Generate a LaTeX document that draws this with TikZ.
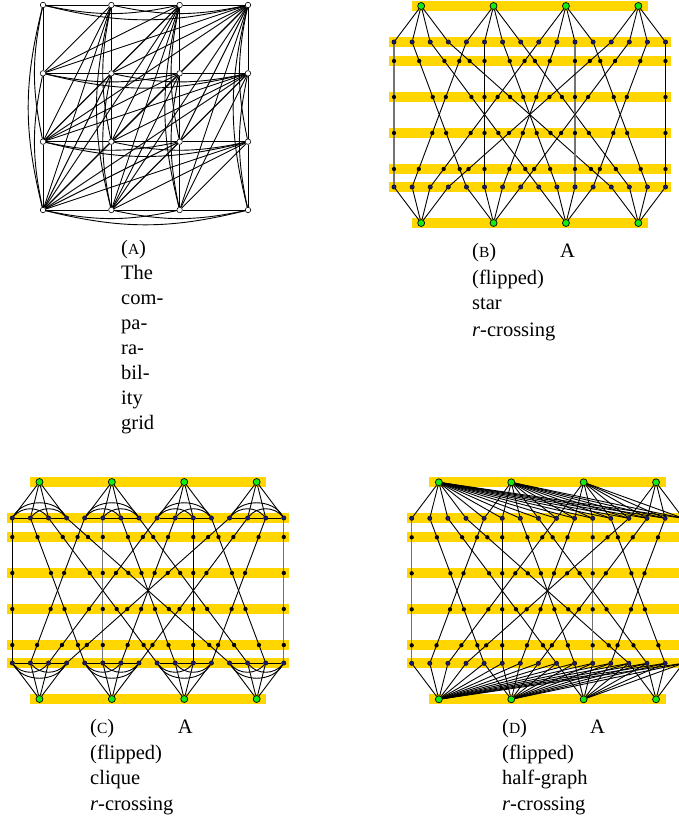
\documentclass[tikz,border=0pt]{standalone}
\usepackage{fontspec}
\setmainfont{Liberation Serif}
\pgfdeclarelayer{bg}
\pgfdeclarelayer{edges}
\pgfsetlayers{bg,edges,main}
\definecolor{bandcol}{RGB}{255,214,0}
\definecolor{gncol}{RGB}{20,235,20}
\definecolor{bncol}{RGB}{25,25,120}
\tikzset{
  gn/.style={circle,draw=black,fill=gncol,inner sep=0pt,minimum size=7pt,line width=0.7pt},
  bn/.style={circle,draw=black,fill=bncol,inner sep=0pt,minimum size=4.4pt,line width=0.4pt},
  dn/.style={circle,fill=black,inner sep=0pt,minimum size=4.3pt},
  wn/.style={circle,draw=black,fill=white,inner sep=0pt,minimum size=5.5pt,line width=0.6pt},
  ed/.style={line width=0.9pt,black},
  gved/.style={line width=1.2pt,black!55},
  bandfill/.style={fill=bandcol},
  captext/.style={anchor=base west,inner sep=0pt,font=\fontsize{20.5}{25}\selectfont},
  capright/.style={anchor=base east,inner sep=0pt,font=\fontsize{20.5}{25}\selectfont},
}
\newcommand{\smc}[1]{{\fontsize{15.5}{25}\selectfont #1}}
\newcommand{\rcross}[6]{%
  \begin{pgfonlayer}{bg}
    \fill[bandfill] ({#2+17.6},{#3-5}) rectangle ({#2+254},{#3+5});
    \fill[bandfill] ({#2+17.6},{#3+212}) rectangle ({#2+254},{#3+222});
    \foreach \r in {36,55,91,127,163,181}
      \fill[bandfill] ({#2-5},{#3+\r-5}) rectangle ({#2+276.5},{#3+\r+5});
  \end{pgfonlayer}
  \foreach \g in {0,...,3} {
    \node[gn] (#1t\g) at ({#2+27.15+72.4*\g},{#3}) {};
    \node[gn] (#1b\g) at ({#2+27.15+72.4*\g},{#3+217}) {};
  }
  \foreach \i in {0,...,15} {
    \node[bn] (#1u\i) at ({#2+18.1*\i},{#3+36}) {};
    \node[bn] (#1d\i) at ({#2+18.1*\i},{#3+181}) {};
  }
  \foreach \i in {0,...,15} {
    \pgfmathtruncatemacro{\pp}{4*mod(\i,4)+int(\i/4)}
    \foreach \r/\k in {19/1,55/2,91/3,127/4}
      \node[dn] (#1m\i-\k) at ({#2+18.1*\i+(\pp-\i)*(18.1*\r/145)},{#3+36+\r}) {};
    \pgfmathtruncatemacro{\isg}{(\i==#5)||(\i==#6)}
    \begin{pgfonlayer}{edges}
      \ifnum\isg=1 \draw[gved] (#1u\i) -- (#1d\pp);
      \else \draw[ed] (#1u\i) -- (#1d\pp); \fi
    \end{pgfonlayer}
  }
  \begin{pgfonlayer}{edges}
  \foreach \g in {0,...,3} {
    \pgfmathtruncatemacro{\lo}{4*\g}
    \pgfmathtruncatemacro{\hi}{#4==2 ? 15 : 4*\g+3}
    \foreach \ii in {\lo,...,\hi} {
      \draw[ed] (#1t\g) -- (#1u\ii);
      \draw[ed] (#1b\g) -- (#1d\ii);
    }
  }
  \ifnum#4=1
  \foreach \g in {0,...,3} {
    \pgfmathtruncatemacro{\qa}{4*\g}
    \pgfmathtruncatemacro{\qb}{4*\g+1}
    \pgfmathtruncatemacro{\qc}{4*\g+2}
    \pgfmathtruncatemacro{\qd}{4*\g+3}
    \draw[ed] (#1u\qa) -- (#1u\qb);
    \draw[ed] (#1u\qb) -- (#1u\qc);
    \draw[ed] (#1u\qc) -- (#1u\qd);
    \draw[ed] (#1u\qa) to[bend left=50] (#1u\qc);
    \draw[ed] (#1u\qb) to[bend left=50] (#1u\qd);
    \draw[ed] (#1u\qa) to[bend left=60] (#1u\qd);
    \draw[ed] (#1d\qa) -- (#1d\qb);
    \draw[ed] (#1d\qb) -- (#1d\qc);
    \draw[ed] (#1d\qc) -- (#1d\qd);
    \draw[ed] (#1d\qa) to[bend right=50] (#1d\qc);
    \draw[ed] (#1d\qb) to[bend right=50] (#1d\qd);
    \draw[ed] (#1d\qa) to[bend right=60] (#1d\qd);
  }
  \fi
  \end{pgfonlayer}
}
\begin{document}
\begin{tikzpicture}[x=1pt,y=-1pt]
\useasboundingbox (0,0) rectangle (679,821);
\clip (0,0) rectangle (679,821);
% Panel A: comparability grid
\foreach \ca in {0,...,3} \foreach \ra in {0,...,3}
  \node[wn] (A\ca\ra) at ({43+68.33*\ca},{210-68.33*\ra}) {};
\begin{pgfonlayer}{edges}
\foreach \ra in {0,...,3} {
  \foreach \p/\q in {0/1,1/2,2/3} {
    \draw[ed] (A\p\ra) -- (A\q\ra);
    \draw[ed] (A\ra\p) -- (A\ra\q);
  }
  \foreach \p/\q/\bb in {0/2/12,1/3/12,0/3/14} {
    \draw[ed] (A\p\ra) to[bend right=\bb] (A\q\ra);
    \draw[ed] (A\ra\q) to[bend right=\bb] (A\ra\p);
  }
}
\foreach \ca in {0,...,2} {
  \pgfmathtruncatemacro{\cs}{\ca+1}
  \foreach \cb in {\cs,...,3}
    \foreach \ra in {0,...,2} {
      \pgfmathtruncatemacro{\rs}{\ra+1}
      \foreach \rb in {\rs,...,3}
        \draw[ed] (A\ca\ra) -- (A\cb\rb);
    }
}
\end{pgfonlayer}
% Panels B, C, D
\rcross{B}{394}{6}{0}{0}{10}
\rcross{C}{12.3}{482}{1}{5}{15}
\rcross{D}{411.7}{482.3}{2}{0}{10}
% Captions
\node[captext] (capA1) at (121,254) {(\smc{A})};
\node[captext] (capA2) at (121,279) {The};
\node[captext] (capA3) at (121,304) {com-};
\node[captext] (capA4) at (121,329) {pa-};
\node[captext] (capA5) at (121,354) {ra-};
\node[captext] (capA6) at (121,379) {bil-};
\node[captext] (capA7) at (121,404) {ity};
\node[captext] (capA8) at (121,429) {grid};
\node[captext] (capB1) at (472,257) {(\smc{B})};
\node[capright] (capB1r) at (575,257) {A};
\node[captext] (capB2) at (472,284) {(flipped)};
\node[captext] (capB3) at (472,309) {star};
\node[captext] (capB4) at (472,336) {\textit{r}-crossing};
\node[captext] (capC1) at (90,733) {(\smc{C})};
\node[capright] (capC1r) at (193,733) {A};
\node[captext] (capC2) at (90,759) {(flipped)};
\node[captext] (capC3) at (90,784) {clique};
\node[captext] (capC4) at (90,810) {\textit{r}-crossing};
\node[captext] (capD1) at (502,733) {(\smc{D})};
\node[capright] (capD1r) at (605,733) {A};
\node[captext] (capD2) at (502,759) {(flipped)};
\node[captext] (capD3) at (502,784) {half-graph};
\node[captext] (capD4) at (502,810) {\textit{r}-crossing};
\end{tikzpicture}
\end{document}
